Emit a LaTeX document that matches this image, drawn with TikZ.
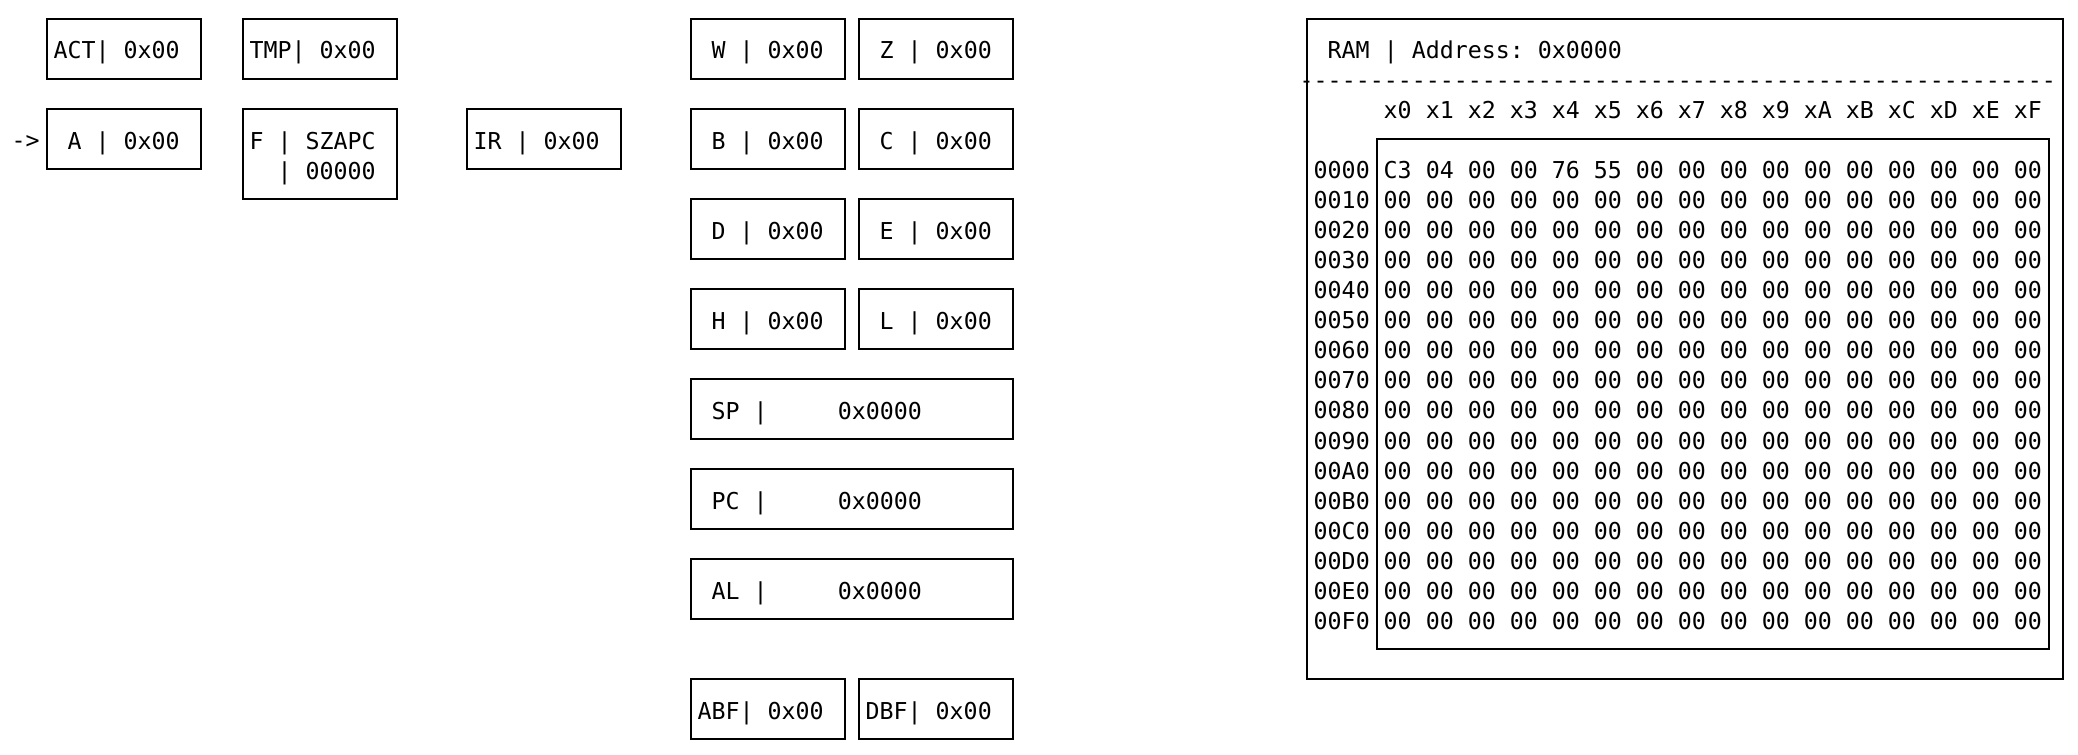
\documentclass[tikz,border=0pt]{standalone}
\usepackage{fontspec}
\setmonofont{DejaVu Sans Mono}
\usepackage{tikz}

\begin{document}
\begin{tikzpicture}[x=7pt, y=-15pt,
        mono/.style={font=\ttfamily\fontsize{11.63pt}{15pt}\selectfont\frenchspacing},
        txt/.style={mono, anchor=base west, inner sep=0pt, outer sep=0pt},
        reg/.style={mono, draw, line width=1pt, anchor=north west, outer sep=0pt,
            inner xsep=3.5pt, inner ysep=0pt, text height=20pt, text depth=10pt,
            text width=70pt, align=flush left},
        wide/.style={text width=154pt},
        tall/.style={text depth=25pt},
        frame/.style={draw, line width=1pt, anchor=north west, outer sep=0pt, inner sep=0pt}]
    \fill[white] (0.164,-0.133) rectangle (148.59,25.0);
    \useasboundingbox (0.164,-0.133) rectangle (148.59,25.0);
    % alu side
    \node[reg] (act) at (3.5,0.5) {ACT| 0x00};
    \node[reg] (tmp) at (17.5,0.5) {TMP| 0x00};
    \node[txt] (ptr) at (1,4.833) {->};
    \node[reg] (a) at (3.5,3.5) {\ A | 0x00};
    \node[reg, tall] (f) at (17.5,3.5) {F | SZAPC\\\hphantom{F }| 00000};
    \node[reg] (ir) at (33.5,3.5) {IR | 0x00};
    % register file
    \foreach \p/\q [count=\i from 0] in {W/Z, B/C, D/E, H/L} {
        \node[reg] (\p) at (49.5,0.5+3*\i) {\ \p{} | 0x00};
        \node[reg] (\q) at (61.5,0.5+3*\i) {\ \q{} | 0x00};
    }
    \foreach \n [count=\i from 0] in {SP, PC, AL}
        \node[reg, wide] (\n) at (49.5,12.5+3*\i) {\ \n{} |~~~~~0x0000};
    \node[reg] (abf) at (49.5,22.5) {ABF| 0x00};
    \node[reg] (dbf) at (61.5,22.5) {DBF| 0x00};
    % memory
    \node[frame, minimum width=378pt, minimum height=330pt] (ram) at (93.5,0.5) {};
    \node[frame, minimum width=336pt, minimum height=255pt] (mem) at (98.5,4.5) {};
    \node[txt] (title) at (95,1.833) {RAM | Address: 0x0000};
    \node[txt] (rule) at (93,2.833) {------------------------------------------------------};
    \node[txt] (cols) at (99,3.833) {x0 x1 x2 x3 x4 x5 x6 x7 x8 x9 xA xB xC xD xE xF};
    \node[txt] (row0) at (94,5.833) {0000};
    \node[txt] (bytes0) at (99,5.833) {C3 04 00 00 76 55 00 00 00 00 00 00 00 00 00 00};
    \foreach \a [count=\r] in {0010,0020,0030,0040,0050,0060,0070,0080,0090,00A0,00B0,00C0,00D0,00E0,00F0} {
        \node[txt] (row\r) at (94,5.833+\r) {\a};
        \node[txt] (bytes\r) at (99,5.833+\r) {00 00 00 00 00 00 00 00 00 00 00 00 00 00 00 00};
    }
\end{tikzpicture}
\end{document}
